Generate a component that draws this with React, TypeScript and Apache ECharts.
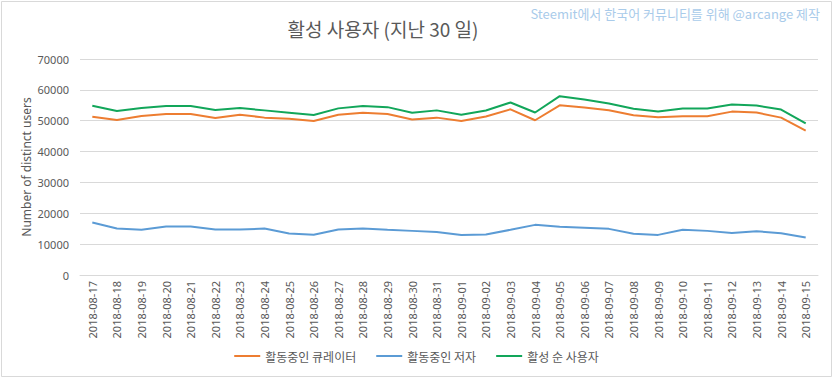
import React, { useEffect, useRef } from "react";
import * as echarts from "echarts";

const dates = [
  "2018-08-17","2018-08-18","2018-08-19","2018-08-20","2018-08-21","2018-08-22","2018-08-23","2018-08-24",
  "2018-08-25","2018-08-26","2018-08-27","2018-08-28","2018-08-29","2018-08-30","2018-08-31","2018-09-01",
  "2018-09-02","2018-09-03","2018-09-04","2018-09-05","2018-09-06","2018-09-07","2018-09-08","2018-09-09",
  "2018-09-10","2018-09-11","2018-09-12","2018-09-13","2018-09-14","2018-09-15",
];

const curators = [
  51300, 50250, 51500, 52150, 52150, 50900, 51950, 51000, 50650, 49900, 51950, 52600, 52150, 50400, 51000,
  49900, 51350, 53700, 50150, 55000, 54300, 53400, 51800, 51100, 51450, 51450, 52950, 52650, 51000, 46800,
];

const authors = [
  17000, 15050, 14650, 15700, 15700, 14750, 14750, 15050, 13450, 13050, 14750, 15050, 14650, 14300, 13950,
  13000, 13100, 14650, 16250, 15600, 15300, 14950, 13350, 13000, 14650, 14300, 13650, 14200, 13550, 12150,
];

const activeUsers = [
  54850, 53150, 54100, 54750, 54750, 53450, 54100, 53350, 52600, 51850, 54000, 54750, 54400, 52600, 53350,
  51950, 53300, 55900, 52650, 57950, 56900, 55600, 53850, 52950, 53950, 53950, 55250, 54900, 53600, 49100,
];

const seriesNames = ["활동중인 큐레이터", "활동중인 저자", "활성 순 사용자"];
const seriesColors = ["#ED7D31", "#5B9BD5", "#12A65A"];

const titleText = "활성 사용자 (지난 30 일)";
const watermarkText = "Steemit에서 한국어 커뮤니티를 위해 @arcange 제작";
const yAxisName = "Number of distinct users";

export default function App() {
  const ref = useRef<HTMLDivElement>(null);
  useEffect(() => {
    if (!ref.current) return;
    const chart = echarts.init(ref.current, null, { renderer: "svg" });
    const font = "'Noto Sans CJK KR', 'Noto Sans', sans-serif";
    const data = [curators, authors, activeUsers];
    chart.setOption({
      animation: false,
      backgroundColor: "#ffffff",
      textStyle: { fontFamily: font },
      graphic: [
        {
          type: "rect",
          shape: { x: 1.5, y: 1.5, width: 830, height: 375 },
          style: { fill: "none", stroke: "#d9d9d9", lineWidth: 1 },
          silent: true,
        },
        {
          type: "text",
          x: 383,
          y: 28,
          style: {
            text: titleText,
            fontSize: 19,
            fill: "#595959",
            fontFamily: font,
            align: "center",
            verticalAlign: "middle",
          },
        },
        {
          type: "text",
          x: 820,
          y: 13,
          style: {
            text: watermarkText,
            fontSize: 13,
            fill: "#A9CBEA",
            fontFamily: font,
            align: "right",
            verticalAlign: "middle",
          },
        },
      ],
      legend: {
        bottom: 12,
        left: "center",
        itemWidth: 26,
        itemHeight: 2,
        itemGap: 20,
        icon: "rect",
        textStyle: { fontSize: 12, color: "#595959", fontFamily: font },
        data: seriesNames,
      },
      grid: { left: 80, right: 15, top: 59, bottom: 104, containLabel: false },
      xAxis: {
        type: "category",
        data: dates,
        boundaryGap: true,
        axisLine: { show: true, lineStyle: { color: "#d9d9d9" } },
        axisTick: { show: false },
        axisLabel: {
          rotate: 90,
          fontSize: 11,
          color: "#595959",
          fontFamily: "'Noto Sans', sans-serif",
          margin: 6,
          interval: 0,
        },
      },
      yAxis: {
        type: "value",
        min: 0,
        max: 70000,
        interval: 10000,
        name: yAxisName,
        nameLocation: "middle",
        nameGap: 48,
        nameMoveOverlap: false,
        nameTextStyle: { fontSize: 12, color: "#595959", fontFamily: "'Noto Sans', sans-serif" },
        axisLine: { show: false },
        axisTick: { show: false },
        axisLabel: {
          fontSize: 11,
          color: "#595959",
          margin: 11,
          fontFamily: "'Noto Sans', sans-serif",
          formatter: (v: number) => String(v),
        },
        splitLine: { lineStyle: { color: "#d9d9d9" } },
      },
      series: seriesNames.map((name, i) => ({
        name,
        type: "line",
        data: data[i],
        symbol: "none",
        smooth: false,
        lineStyle: { color: seriesColors[i], width: 2 },
        itemStyle: { color: seriesColors[i] },
      })),
    });
    return () => chart.dispose();
  }, []);
  return (
    <div
      ref={ref}
      style={{ position: "fixed", left: 0, top: 0, width: 833, height: 379 }}
    />
  );
}
